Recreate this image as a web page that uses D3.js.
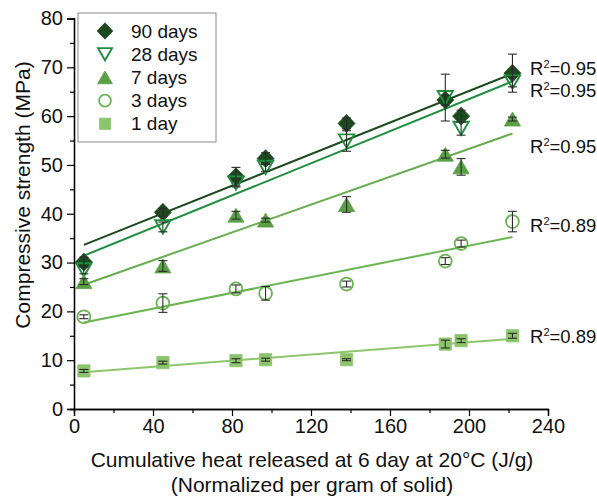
<!DOCTYPE html>
<html>
<head>
<meta charset="utf-8">
<script src="https://cdn.jsdelivr.net/npm/d3@7"></script>
<style>
  html, body { margin: 0; padding: 0; background: #fff; }
  svg { display: block; font-family: "Liberation Sans", Arial, sans-serif; }
</style>
</head>
<body>
<svg id="chart" width="597" height="497"></svg>
<script>
// Cumulative heat (J/g) for each mix
const heat = [5, 45, 82, 97, 138, 188, 196, 222];

// Compressive strength (MPa) and error bars per curing age
const days90 = [30.1, 40.3, 47.6, 51.3, 58.5, 63.3, 60.0, 68.8];
const err90  = [1.0, 0.8, 1.9, 1.2, 1.1, 1.0, 1.2, 3.9];
const days28 = [28.5, 37.3, 46.3, 49.5, 54.9, 63.8, 57.5, 67.0];
const err28  = [0.8, 1.0, 0.8, 0.8, 2.1, 4.8, 1.4, 1.0];
const days7  = [26.1, 29.3, 39.7, 38.7, 41.9, 52.2, 49.6, 59.4];
const err7   = [0.6, 1.1, 0.8, 0.4, 1.6, 0.8, 1.7, 0.4];
const days3  = [18.9, 21.7, 24.6, 23.7, 25.6, 30.3, 33.9, 38.4];
const err3   = [0.4, 1.9, 0.8, 1.4, 0.6, 0.7, 0.7, 2.1];
const days1  = [7.8, 9.5, 9.9, 10.1, 10.1, 13.3, 14.0, 15.0];
const err1   = [0.3, 0.3, 0.4, 0.3, 0.2, 0.8, 0.4, 0.5];

const seriesNames = ["90 days", "28 days", "7 days", "3 days", "1 day"];
const rSquared    = ["0.95", "0.95", "0.95", "0.89", "0.89"];

const xTicks = [0, 40, 80, 120, 160, 200, 240];
const yTicks = [0, 10, 20, 30, 40, 50, 60, 70, 80];

// Series table built from the arrays above
const series = [
  { name: seriesNames[0], vals: days90, errs: err90, r2: rSquared[0], shape: "diamond", fill: "#1c4a1e", stroke: "#1c4a1e", line: "#1c4a1e" },
  { name: seriesNames[1], vals: days28, errs: err28, r2: rSquared[1], shape: "triDown", fill: "none",    stroke: "#1f8f3f", line: "#1f8f3f" },
  { name: seriesNames[2], vals: days7,  errs: err7,  r2: rSquared[2], shape: "triUp",   fill: "#5a9f45", stroke: "#5a9f45", line: "#66ad4e" },
  { name: seriesNames[3], vals: days3,  errs: err3,  r2: rSquared[3], shape: "circle",  fill: "none",    stroke: "#6ab552", line: "#6ab552" },
  { name: seriesNames[4], vals: days1,  errs: err1,  r2: rSquared[4], shape: "square",  fill: "#8cc46c", stroke: "#8cc46c", line: "#8cc66d" }
];

const r2Baselines = [75, 97, 153, 232, 343];

const svg = d3.select("#chart");
const x = d3.scaleLinear().domain([0, 240]).range([74, 548]);
const y = d3.scaleLinear().domain([0, 80]).range([409, 18.5]);

// Least-squares trend line through a series
function fit(xs, ys) {
  const mx = d3.mean(xs), my = d3.mean(ys);
  let sxy = 0, sxx = 0;
  xs.forEach((v, i) => { sxy += (v - mx) * (ys[i] - my); sxx += (v - mx) * (v - mx); });
  const b = sxy / sxx;
  return { a: my - b * mx, b };
}

function symbolPath(shape, s) {
  switch (shape) {
    case "diamond": return `M0,${-s*1.05}L${s},0L0,${s*1.05}L${-s},0Z`;
    case "triDown": { const w = s * 0.9, h = s * 0.78; return `M${-w},${-h}L${w},${-h}L0,${h}Z`; }
    case "triUp":   { const w = s * 0.95, h = s * 0.82; return `M${-w},${h}L${w},${h}L0,${-h}Z`; }
    case "square":  { const h = s * 0.72; return `M${-h},${-h}H${h}V${h}H${-h}Z`; }
  }
  return "";
}

function drawMarker(g, shape, cx, cy, s, d) {
  if (shape === "circle") {
    g.append("circle").attr("cx", cx).attr("cy", cy).attr("r", s * 0.76)
      .attr("fill", "none").attr("stroke", d.stroke).attr("stroke-width", 1.8);
  } else {
    g.append("path").attr("d", symbolPath(shape, s))
      .attr("transform", `translate(${cx},${cy})`)
      .attr("fill", d.fill).attr("stroke", d.stroke)
      .attr("stroke-width", d.fill === "none" ? 1.9 : 0.8);
  }
}

// Trend lines
const lines = svg.append("g");
series.forEach(d => {
  const f = fit(heat, d.vals);
  const x0 = d3.min(heat), x1 = d3.max(heat);
  lines.append("line")
    .attr("x1", x(x0)).attr("y1", y(f.a + f.b * x0))
    .attr("x2", x(x1)).attr("y2", y(f.a + f.b * x1))
    .attr("stroke", d.line).attr("stroke-width", 2);
});

// Markers (drawn from the oldest age to the youngest)
const marks = svg.append("g");
series.forEach(d => {
  d.vals.forEach((v, i) => drawMarker(marks, d.shape, x(heat[i]), y(v), 8.5, d));
});

// Error bars
const bars = svg.append("g").attr("stroke", "#2b2b2b").attr("stroke-width", 1.1);
series.forEach(d => {
  d.vals.forEach((v, i) => {
    const cx = x(heat[i]), lo = y(v - d.errs[i]), hi = y(v + d.errs[i]);
    bars.append("line").attr("x1", cx).attr("x2", cx).attr("y1", lo).attr("y2", hi);
    bars.append("line").attr("x1", cx - 4.5).attr("x2", cx + 4.5).attr("y1", lo).attr("y2", lo);
    bars.append("line").attr("x1", cx - 4.5).attr("x2", cx + 4.5).attr("y1", hi).attr("y2", hi);
  });
});

// Axes
const xAxis = d3.axisBottom(x).tickValues(xTicks).tickSize(7).tickPadding(3).tickFormat(d3.format("d"));
const xMinor = d3.axisBottom(x).tickValues(d3.range(20, 240, 40)).tickSize(4).tickFormat("");
const yAxis = d3.axisLeft(y).tickValues(yTicks).tickSize(7).tickPadding(4).tickFormat(d3.format("d"));
const yMinor = d3.axisLeft(y).tickValues(d3.range(5, 80, 10)).tickSize(4).tickFormat("");

function styleAxis(g) {
  g.select(".domain").attr("stroke", "#000").attr("stroke-width", 1.3);
  g.selectAll(".tick line").attr("stroke", "#000").attr("stroke-width", 1.2);
  g.selectAll("text").attr("fill", "#111").style("font-size", "20px")
    .style("font-family", "'Liberation Sans', Arial, sans-serif");
}

svg.append("g").attr("transform", "translate(0,409)").call(xMinor).call(styleAxis);
svg.append("g").attr("transform", "translate(0,409)").call(xAxis).call(styleAxis);
svg.append("g").attr("transform", "translate(74,0)").call(yMinor).call(styleAxis);
svg.append("g").attr("transform", "translate(74,0)").call(yAxis).call(styleAxis);

// Axis titles
svg.append("text")
  .attr("transform", "translate(30,195) rotate(-90)")
  .attr("text-anchor", "middle").style("font-size", "21px").attr("fill", "#111")
  .text("Compressive strength (MPa)");
svg.append("text").attr("x", 312).attr("y", 467)
  .attr("text-anchor", "middle").style("font-size", "21px").attr("fill", "#111")
  .text("Cumulative heat released at 6 day at 20°C (J/g)");
svg.append("text").attr("x", 312).attr("y", 492)
  .attr("text-anchor", "middle").style("font-size", "21px").attr("fill", "#111")
  .text("(Normalized per gram of solid)");

// R² labels next to each trend line
series.forEach((d, i) => {
  const t = svg.append("text").attr("x", 530).attr("y", r2Baselines[i])
    .style("font-size", "18.5px").attr("fill", "#111");
  t.append("tspan").text("R");
  t.append("tspan").attr("dy", -7.5).style("font-size", "11px").text("2");
  t.append("tspan").attr("dy", 7.5).text("=" + d.r2);
});

// Legend
const legend = svg.append("g");
legend.append("rect").attr("x", 78).attr("y", 13).attr("width", 138).attr("height", 129)
  .attr("fill", "#fff").attr("stroke", "#8a8a8a").attr("stroke-width", 1);
series.forEach((d, i) => {
  const cy = 31 + i * 23.2;
  drawMarker(legend, d.shape, 105, cy, 7.8, d);
  legend.append("text").attr("x", 131).attr("y", cy).attr("dy", "0.35em")
    .style("font-size", "19px").attr("fill", "#111").text(d.name);
});
</script>
</body>
</html>
